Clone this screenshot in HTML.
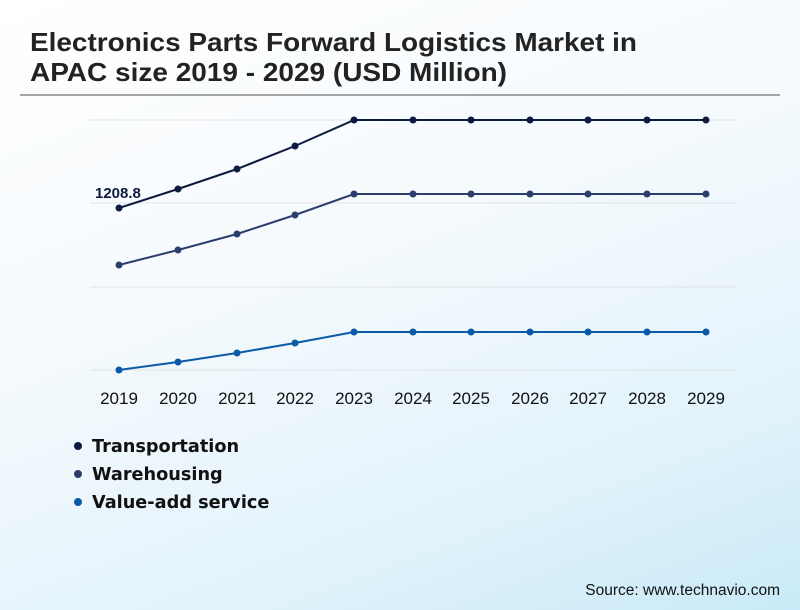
<!DOCTYPE html>
<html><head><style>
body{margin:0;width:800px;height:610px;overflow:hidden;background:linear-gradient(160deg,#ffffff 0%,#f5fafd 40%,#e3f3fb 75%,#c9eaf8 100%);}
svg{display:block}
</style></head><body>
<svg width="800" height="610" xmlns="http://www.w3.org/2000/svg" font-family="Liberation Sans, sans-serif">
<text x="30" y="51" font-size="26" font-weight="bold" fill="#222" textLength="607" lengthAdjust="spacingAndGlyphs">Electronics Parts Forward Logistics Market in</text>
<text x="30" y="81" font-size="26" font-weight="bold" fill="#222" textLength="477" lengthAdjust="spacingAndGlyphs">APAC size 2019 - 2029 (USD Million)</text>
<line x1="20" y1="95" x2="780" y2="95" stroke="#888" stroke-width="1.5"/>
<g stroke="#e2e2e2" stroke-width="1">
<line x1="90" y1="120" x2="736" y2="120"/><line x1="90" y1="203" x2="736" y2="203"/>
<line x1="90" y1="287" x2="736" y2="287"/><line x1="90" y1="370" x2="736" y2="370"/>
</g>
<g fill="none" stroke-width="2">
<polyline stroke="#0d1b3e" points="119,208 178,189 237,169 295,146 354,120 413,120 471,120 530,120 588,120 647,120 706,120"/>
<polyline stroke="#2c3e6e" points="119,265 178,250 237,234 295,215 354,194 413,194 471,194 530,194 588,194 647,194 706,194"/>
<polyline stroke="#0a5aa8" points="119,370 178,362 237,353 295,343 354,332 413,332 471,332 530,332 588,332 647,332 706,332"/>
</g>
<g fill="#0d1b3e"><circle cx="119" cy="208" r="3.5"/><circle cx="178" cy="189" r="3.5"/><circle cx="237" cy="169" r="3.5"/><circle cx="295" cy="146" r="3.5"/><circle cx="354" cy="120" r="3.5"/><circle cx="413" cy="120" r="3.5"/><circle cx="471" cy="120" r="3.5"/><circle cx="530" cy="120" r="3.5"/><circle cx="588" cy="120" r="3.5"/><circle cx="647" cy="120" r="3.5"/><circle cx="706" cy="120" r="3.5"/></g>
<g fill="#2c3e6e"><circle cx="119" cy="265" r="3.5"/><circle cx="178" cy="250" r="3.5"/><circle cx="237" cy="234" r="3.5"/><circle cx="295" cy="215" r="3.5"/><circle cx="354" cy="194" r="3.5"/><circle cx="413" cy="194" r="3.5"/><circle cx="471" cy="194" r="3.5"/><circle cx="530" cy="194" r="3.5"/><circle cx="588" cy="194" r="3.5"/><circle cx="647" cy="194" r="3.5"/><circle cx="706" cy="194" r="3.5"/></g>
<g fill="#0a5aa8"><circle cx="119" cy="370" r="3.5"/><circle cx="178" cy="362" r="3.5"/><circle cx="237" cy="353" r="3.5"/><circle cx="295" cy="343" r="3.5"/><circle cx="354" cy="332" r="3.5"/><circle cx="413" cy="332" r="3.5"/><circle cx="471" cy="332" r="3.5"/><circle cx="530" cy="332" r="3.5"/><circle cx="588" cy="332" r="3.5"/><circle cx="647" cy="332" r="3.5"/><circle cx="706" cy="332" r="3.5"/></g>
<text x="95" y="198" font-size="15" font-weight="bold" fill="#0d1b3e">1208.8</text>
<g font-size="17" fill="#111" text-anchor="middle">
<text x="119" y="404">2019</text><text x="178" y="404">2020</text><text x="237" y="404">2021</text><text x="295" y="404">2022</text><text x="354" y="404">2023</text><text x="413" y="404">2024</text><text x="471" y="404">2025</text><text x="530" y="404">2026</text><text x="588" y="404">2027</text><text x="647" y="404">2028</text><text x="706" y="404">2029</text>
</g>
<g font-family="DejaVu Sans, sans-serif" font-weight="bold" font-size="17.7" fill="#111">
<circle cx="78" cy="446" r="4" fill="#0d1b3e"/><text x="92" y="452">Transportation</text>
<circle cx="78" cy="474" r="4" fill="#2c3e6e"/><text x="92" y="480">Warehousing</text>
<circle cx="78" cy="502" r="4" fill="#0a5aa8"/><text x="92" y="508">Value-add service</text>
</g>
<text x="780" y="595" font-size="15.5" fill="#111" text-anchor="end">Source: www.technavio.com</text>
</svg>
</body></html>
